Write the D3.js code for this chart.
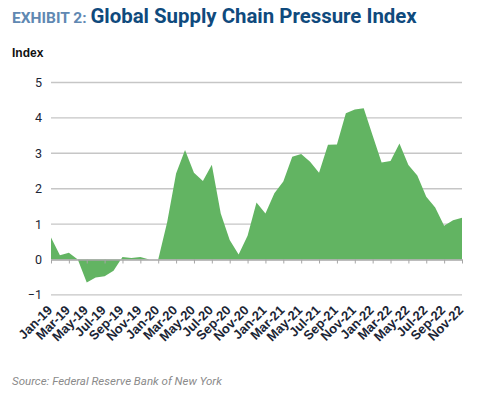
<!DOCTYPE html>
<html>
<head>
<meta charset="utf-8">
<script src="https://cdn.jsdelivr.net/npm/d3@7"></script>
<style>
  body { margin: 0; background: #fff; }
  svg { display: block; }
</style>
</head>
<body>
<div id="chart"></div>
<script>
// GSCPI monthly values, Jan-19 .. Nov-22
const months = [
  "Jan-19","Feb-19","Mar-19","Apr-19","May-19","Jun-19","Jul-19","Aug-19","Sep-19","Oct-19","Nov-19","Dec-19",
  "Jan-20","Feb-20","Mar-20","Apr-20","May-20","Jun-20","Jul-20","Aug-20","Sep-20","Oct-20","Nov-20","Dec-20",
  "Jan-21","Feb-21","Mar-21","Apr-21","May-21","Jun-21","Jul-21","Aug-21","Sep-21","Oct-21","Nov-21","Dec-21",
  "Jan-22","Feb-22","Mar-22","Apr-22","May-22","Jun-22","Jul-22","Aug-22","Sep-22","Oct-22","Nov-22"
];
const values = [
  0.62, 0.12, 0.19, 0.0, -0.65, -0.51, -0.47, -0.32, 0.07, 0.04, 0.07, 0.0,
  0.0, 1.05, 2.43, 3.09, 2.45, 2.22, 2.68, 1.30, 0.55, 0.14, 0.67, 1.61,
  1.30, 1.87, 2.20, 2.90, 2.98, 2.76, 2.45, 3.24, 3.25, 4.13, 4.24, 4.27,
  3.50, 2.74, 2.78, 3.28, 2.67, 2.37, 1.77, 1.47, 0.95, 1.11, 1.18
];
const yTicks = [-1, 0, 1, 2, 3, 4, 5];

const W = 484, H = 394;
const margin = {top: 82.5, right: 22, left: 51};
const width = W - margin.left - margin.right,
      height = 6 * 35.4;

const svg = d3.select("#chart").append("svg")
    .attr("width", W)
    .attr("height", H);

// title
const title = svg.append("text")
    .attr("x", 12).attr("y", 22.5)
    .style("font-family", "Roboto, 'Liberation Sans', sans-serif")
    .style("font-weight", "700");
title.append("tspan")
    .attr("fill", "#6088b2")
    .style("font-size", "15.5px")
    .text("EXHIBIT 2: ");
title.append("tspan")
    .attr("fill", "#0f4a7d")
    .style("font-size", "20.4px")
    .text("Global Supply Chain Pressure Index");

svg.append("text")
    .attr("x", 12).attr("y", 57)
    .attr("fill", "#111")
    .style("font-family", "'Liberation Sans Narrow', 'Liberation Sans', sans-serif")
    .style("font-weight", "700")
    .style("font-size", "12px")
    .text("Index");

svg.append("text")
    .attr("x", 12).attr("y", 385)
    .attr("fill", "#8a8a8a")
    .style("font-family", "Roboto, 'Liberation Sans', sans-serif")
    .style("font-style", "italic")
    .style("font-size", "11.5px")
    .text("Source: Federal Reserve Bank of New York");

const g = svg.append("g")
    .attr("transform", `translate(${margin.left},${margin.top})`);

const x = d3.scalePoint()
    .domain(months)
    .range([0, width]);

const y = d3.scaleLinear()
    .domain([-1, 5])
    .range([height, 0]);

// gridlines
g.append("g")
  .selectAll("line")
  .data(yTicks.filter(d => d !== 0))
  .join("line")
    .attr("x1", 0).attr("x2", width)
    .attr("y1", d => y(d)).attr("y2", d => y(d))
    .attr("stroke", "#c6c6c6")
    .attr("stroke-width", 1.4);

// y labels
g.append("g")
    .call(d3.axisLeft(y).tickValues(yTicks).tickSize(0).tickPadding(9).tickFormat(d3.format("d")))
    .call(s => s.select(".domain").remove())
    .call(s => s.selectAll("text")
        .attr("fill", "#1b2535")
        .style("font-family", "Roboto, 'Liberation Sans', sans-serif")
        .style("font-size", "12.5px"));

// area
const area = d3.area()
    .x((d, i) => x(months[i]))
    .y0(y(0))
    .y1(d => y(d));

g.append("path")
    .datum(values)
    .attr("fill", "#62b462")
    .attr("d", area);

// zero axis with ticks every two months
const xAxis = d3.axisBottom(x)
    .tickValues(months.filter((d, i) => i % 2 === 0))
    .tickSize(4)
    .tickSizeOuter(0);

g.append("g")
    .attr("transform", `translate(0,${y(0)})`)
    .call(xAxis)
    .call(s => s.select(".domain").attr("stroke", "#a6a6a6").attr("stroke-width", 1.4))
    .call(s => s.selectAll(".tick line").attr("stroke", "#a6a6a6"))
    .call(s => s.selectAll("text").remove());

// rotated month labels, placed under the bottom gridline
g.append("g")
  .selectAll("text")
  .data(months.filter((d, i) => i % 2 === 0))
  .join("text")
    .attr("transform", d => `translate(${x(d) + 2},${y(-1) + 16}) rotate(-45)`)
    .attr("text-anchor", "end")
    .attr("fill", "#1b2535")
    .style("font-family", "'Liberation Sans Narrow', 'Liberation Sans', sans-serif")
    .style("font-weight", "700")
    .style("font-size", "13px")
    .text(d => d);
</script>
</body>
</html>
